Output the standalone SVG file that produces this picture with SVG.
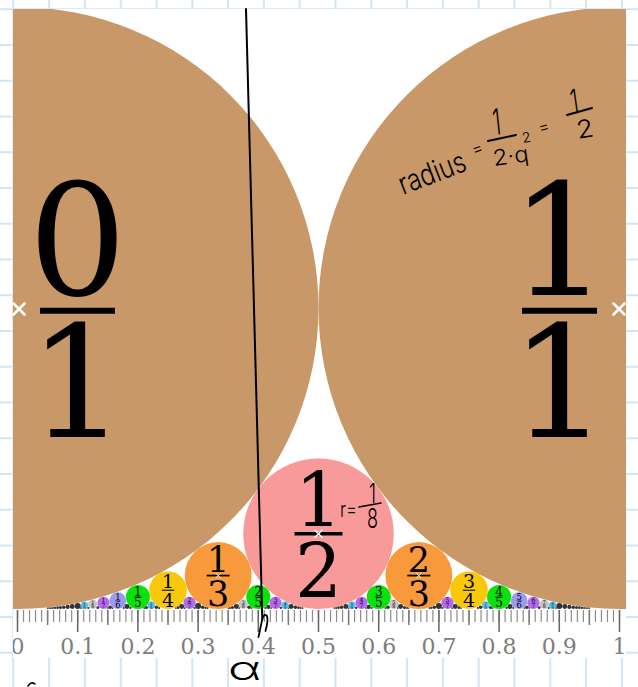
<svg xmlns="http://www.w3.org/2000/svg" width="638" height="687" viewBox="0 0 638 687">
<defs>
<style>
.lab{font-family:"DejaVu Serif","Liberation Serif",serif;text-anchor:middle;fill:#000}
.bar{stroke:#000;fill:none}
.hw{font-family:"Inter","Open Sans","DejaVu Sans",sans-serif;font-weight:300;fill:#000}
.ink{stroke:#000;fill:none;stroke-linecap:round;stroke-linejoin:round}
.ax{font-family:"DejaVu Serif","Liberation Serif",serif;font-size:22px;fill:#7d7d7d;text-anchor:middle}
.pt{stroke:#fff;fill:none;stroke-linecap:round}
.q1{fill:#c99868}.q2{fill:#f99a9a}.q3{fill:#f89a3c}.q4{fill:#f8c80a}.q5{fill:#0be10b}
.q6{fill:#9a9af2}.q7{fill:#b56bee}.q8{fill:#c6c6c6}.q9{fill:#5bbfea}.qn{fill:#333}
</style>
<pattern id="grid" x="12.3" y="8.25" width="35.8" height="35.75" patternUnits="userSpaceOnUse">
<path d="M0 1H35.8M1 0V35.75" stroke="#cfe6f7" stroke-width="2" fill="none"/>
</pattern>
<clipPath id="plot"><rect x="13" y="9" width="613" height="649"/></clipPath>
</defs>
<rect width="638" height="687" fill="#fff"/>
<rect width="638" height="687" fill="url(#grid)"/>
<rect x="13" y="9" width="613" height="649" fill="#fff"/>
<g clip-path="url(#plot)">
<circle cx="628" cy="23" r="11" fill="#a5a5a5"/>
<g id="c0_1"><circle class="q1" cx="17.5" cy="308" r="301"/>
<text class="lab" x="77.5" y="295" font-size="155">0</text><line class="bar" x1="40" y1="310.7" x2="115" y2="310.7" stroke-width="6"/><text class="lab" x="77.5" y="437" font-size="155">1</text>
<path class="pt" d="M13.5 303.5l11 11M24.5 303.5l-11 11" stroke-width="2.5"/></g>
<g id="c1_1"><circle class="q1" cx="619.5" cy="308" r="301"/>
<text class="lab" x="559.5" y="295" font-size="155">1</text><line class="bar" x1="522" y1="310.7" x2="597" y2="310.7" stroke-width="6"/><text class="lab" x="559.5" y="437" font-size="155">1</text>
<path class="pt" d="M613.5 303.5l11 11M624.5 303.5l-11 11" stroke-width="2.5"/></g>
<g id="c1_2"><circle class="q2" cx="318.5" cy="533.75" r="75.25"/>
<text class="lab" x="318.5" y="525.6" font-size="74">1</text><line class="bar" x1="294.5" y1="533.75" x2="342.5" y2="533.75" stroke-width="3.7"/><text class="lab" x="318.5" y="597.4" font-size="74">2</text>
<path class="pt" d="M315 530.25l7 7M322 530.25l-7 7" stroke-width="1.5"/></g>
<g id="c1_3"><circle class="q3" cx="218.17" cy="575.56" r="33.44"/>
<text class="lab" x="218.17" y="571.7" font-size="35">1</text><line class="bar" x1="206.67" y1="575.56" x2="229.67" y2="575.56" stroke-width="1.75"/><text class="lab" x="218.17" y="605.7" font-size="35">3</text>
<path class="pt" d="M216.2 573.6l4 4M220.2 573.6l-4 4" stroke-width="1"/></g>
<g id="c2_3"><circle class="q3" cx="418.83" cy="575.56" r="33.44"/>
<text class="lab" x="418.83" y="571.7" font-size="35">2</text><line class="bar" x1="407.33" y1="575.56" x2="430.33" y2="575.56" stroke-width="1.75"/><text class="lab" x="418.83" y="605.7" font-size="35">3</text>
<path class="pt" d="M416.8 573.6l4 4M420.8 573.6l-4 4" stroke-width="1"/></g>
<g id="c1_4"><circle class="q4" cx="168" cy="590.19" r="18.81"/>
<text class="lab" x="168" y="588.1" font-size="19">1</text><line class="bar" x1="161.8" y1="590.19" x2="174.2" y2="590.19" stroke-width="1"/><text class="lab" x="168" y="606.5" font-size="19">4</text></g>
<g id="c3_4"><circle class="q4" cx="469" cy="590.19" r="18.81"/>
<text class="lab" x="469" y="588.1" font-size="19">3</text><line class="bar" x1="462.8" y1="590.19" x2="475.2" y2="590.19" stroke-width="1"/><text class="lab" x="469" y="606.5" font-size="19">4</text></g>
<g id="c1_5"><circle class="q5" cx="137.9" cy="596.96" r="12.04"/>
<text class="lab" x="137.9" y="595.6" font-size="12">1</text><line class="bar" x1="134" y1="596.96" x2="141.8" y2="596.96" stroke-width="0.6"/><text class="lab" x="137.9" y="607.3" font-size="12">5</text></g>
<g id="c2_5"><circle class="q5" cx="258.3" cy="596.96" r="12.04"/>
<text class="lab" x="258.3" y="595.6" font-size="12">2</text><line class="bar" x1="254.4" y1="596.96" x2="262.2" y2="596.96" stroke-width="0.6"/><text class="lab" x="258.3" y="607.3" font-size="12">5</text></g>
<g id="c3_5"><circle class="q5" cx="378.7" cy="596.96" r="12.04"/>
<text class="lab" x="378.7" y="595.6" font-size="12">3</text><line class="bar" x1="374.8" y1="596.96" x2="382.6" y2="596.96" stroke-width="0.6"/><text class="lab" x="378.7" y="607.3" font-size="12">5</text></g>
<g id="c4_5"><circle class="q5" cx="499.1" cy="596.96" r="12.04"/>
<text class="lab" x="499.1" y="595.6" font-size="12">4</text><line class="bar" x1="495.2" y1="596.96" x2="503" y2="596.96" stroke-width="0.6"/><text class="lab" x="499.1" y="607.3" font-size="12">5</text></g>
<g id="c1_6"><circle class="q6" cx="117.83" cy="600.64" r="8.36"/>
<text class="lab" x="117.83" y="599.7" font-size="8.4">1</text><line class="bar" x1="115.1" y1="600.64" x2="120.5" y2="600.64" stroke-width="0.45"/><text class="lab" x="117.83" y="607.9" font-size="8.4">6</text></g>
<g id="c5_6"><circle class="q6" cx="519.17" cy="600.64" r="8.36"/>
<text class="lab" x="519.17" y="599.7" font-size="8.4">5</text><line class="bar" x1="516.5" y1="600.64" x2="521.9" y2="600.64" stroke-width="0.45"/><text class="lab" x="519.17" y="607.9" font-size="8.4">6</text></g>
<g id="c1_7"><circle class="q7" cx="103.5" cy="602.86" r="6.14"/><text class="lab" x="103.5" y="602.2" font-size="6.1">1</text><line class="bar" x1="101.5" y1="602.86" x2="105.5" y2="602.86" stroke-width="0.35"/><text class="lab" x="103.5" y="608.1" font-size="6.1">7</text></g>
<g id="c2_7"><circle class="q7" cx="189.5" cy="602.86" r="6.14"/><text class="lab" x="189.5" y="602.2" font-size="6.1">2</text><line class="bar" x1="187.5" y1="602.86" x2="191.5" y2="602.86" stroke-width="0.35"/><text class="lab" x="189.5" y="608.1" font-size="6.1">7</text></g>
<g id="c3_7"><circle class="q7" cx="275.5" cy="602.86" r="6.14"/><text class="lab" x="275.5" y="602.2" font-size="6.1">3</text><line class="bar" x1="273.5" y1="602.86" x2="277.5" y2="602.86" stroke-width="0.35"/><text class="lab" x="275.5" y="608.1" font-size="6.1">7</text></g>
<g id="c4_7"><circle class="q7" cx="361.5" cy="602.86" r="6.14"/><text class="lab" x="361.5" y="602.2" font-size="6.1">4</text><line class="bar" x1="359.5" y1="602.86" x2="363.5" y2="602.86" stroke-width="0.35"/><text class="lab" x="361.5" y="608.1" font-size="6.1">7</text></g>
<g id="c5_7"><circle class="q7" cx="447.5" cy="602.86" r="6.14"/><text class="lab" x="447.5" y="602.2" font-size="6.1">5</text><line class="bar" x1="445.5" y1="602.86" x2="449.5" y2="602.86" stroke-width="0.35"/><text class="lab" x="447.5" y="608.1" font-size="6.1">7</text></g>
<g id="c6_7"><circle class="q7" cx="533.5" cy="602.86" r="6.14"/><text class="lab" x="533.5" y="602.2" font-size="6.1">6</text><line class="bar" x1="531.5" y1="602.86" x2="535.5" y2="602.86" stroke-width="0.35"/><text class="lab" x="533.5" y="608.1" font-size="6.1">7</text></g>
<g id="c1_8"><circle class="q8" cx="92.75" cy="604.3" r="4.7"/><text class="lab" x="92.75" y="603.8" font-size="4.7">1</text><line class="bar" x1="91.25" y1="604.3" x2="94.25" y2="604.3" stroke-width="0.3"/><text class="lab" x="92.75" y="608.3" font-size="4.7">8</text></g>
<g id="c3_8"><circle class="q8" cx="243.25" cy="604.3" r="4.7"/><text class="lab" x="243.25" y="603.8" font-size="4.7">3</text><line class="bar" x1="241.75" y1="604.3" x2="244.75" y2="604.3" stroke-width="0.3"/><text class="lab" x="243.25" y="608.3" font-size="4.7">8</text></g>
<g id="c5_8"><circle class="q8" cx="393.75" cy="604.3" r="4.7"/><text class="lab" x="393.75" y="603.8" font-size="4.7">5</text><line class="bar" x1="392.25" y1="604.3" x2="395.25" y2="604.3" stroke-width="0.3"/><text class="lab" x="393.75" y="608.3" font-size="4.7">8</text></g>
<g id="c7_8"><circle class="q8" cx="544.25" cy="604.3" r="4.7"/><text class="lab" x="544.25" y="603.8" font-size="4.7">7</text><line class="bar" x1="542.75" y1="604.3" x2="545.75" y2="604.3" stroke-width="0.3"/><text class="lab" x="544.25" y="608.3" font-size="4.7">8</text></g>
<g id="c1_9"><circle class="q9" cx="84.39" cy="605.28" r="3.72"/><text class="lab" x="84.39" y="604.9" font-size="3.7">1</text><line class="bar" x1="83.2" y1="605.28" x2="85.6" y2="605.28" stroke-width="0.25"/><text class="lab" x="84.39" y="608.5" font-size="3.7">9</text></g>
<g id="c2_9"><circle class="q9" cx="151.28" cy="605.28" r="3.72"/><text class="lab" x="151.28" y="604.9" font-size="3.7">2</text><line class="bar" x1="150.1" y1="605.28" x2="152.5" y2="605.28" stroke-width="0.25"/><text class="lab" x="151.28" y="608.5" font-size="3.7">9</text></g>
<g id="c4_9"><circle class="q9" cx="285.06" cy="605.28" r="3.72"/><text class="lab" x="285.06" y="604.9" font-size="3.7">4</text><line class="bar" x1="283.9" y1="605.28" x2="286.3" y2="605.28" stroke-width="0.25"/><text class="lab" x="285.06" y="608.5" font-size="3.7">9</text></g>
<g id="c5_9"><circle class="q9" cx="351.94" cy="605.28" r="3.72"/><text class="lab" x="351.94" y="604.9" font-size="3.7">5</text><line class="bar" x1="350.7" y1="605.28" x2="353.1" y2="605.28" stroke-width="0.25"/><text class="lab" x="351.94" y="608.5" font-size="3.7">9</text></g>
<g id="c7_9"><circle class="q9" cx="485.72" cy="605.28" r="3.72"/><text class="lab" x="485.72" y="604.9" font-size="3.7">7</text><line class="bar" x1="484.5" y1="605.28" x2="486.9" y2="605.28" stroke-width="0.25"/><text class="lab" x="485.72" y="608.5" font-size="3.7">9</text></g>
<g id="c8_9"><circle class="q9" cx="552.61" cy="605.28" r="3.72"/><text class="lab" x="552.61" y="604.9" font-size="3.7">8</text><line class="bar" x1="551.4" y1="605.28" x2="553.8" y2="605.28" stroke-width="0.25"/><text class="lab" x="552.61" y="608.5" font-size="3.7">9</text></g>
<g id="small-circles" class="qn">
<circle cx="77.7" cy="605.99" r="3.01"/><circle cx="198.1" cy="605.99" r="3.01"/><circle cx="438.9" cy="605.99" r="3.01"/><circle cx="559.3" cy="605.99" r="3.01"/>
<circle cx="72.23" cy="606.51" r="2.49"/><circle cx="126.95" cy="606.51" r="2.49"/><circle cx="181.68" cy="606.51" r="2.49"/><circle cx="236.41" cy="606.51" r="2.49"/><circle cx="291.14" cy="606.51" r="2.49"/><circle cx="345.86" cy="606.51" r="2.49"/><circle cx="400.59" cy="606.51" r="2.49"/><circle cx="455.32" cy="606.51" r="2.49"/><circle cx="510.05" cy="606.51" r="2.49"/><circle cx="564.77" cy="606.51" r="2.49"/>
<circle cx="67.67" cy="606.91" r="2.09"/><circle cx="268.33" cy="606.91" r="2.09"/><circle cx="368.67" cy="606.91" r="2.09"/><circle cx="569.33" cy="606.91" r="2.09"/>
<circle cx="63.81" cy="607.22" r="1.78"/><circle cx="110.12" cy="607.22" r="1.78"/><circle cx="156.42" cy="607.22" r="1.78"/><circle cx="202.73" cy="607.22" r="1.78"/><circle cx="249.04" cy="607.22" r="1.78"/><circle cx="295.35" cy="607.22" r="1.78"/><circle cx="341.65" cy="607.22" r="1.78"/><circle cx="387.96" cy="607.22" r="1.78"/><circle cx="434.27" cy="607.22" r="1.78"/><circle cx="480.58" cy="607.22" r="1.78"/><circle cx="526.88" cy="607.22" r="1.78"/><circle cx="573.19" cy="607.22" r="1.78"/>
<circle cx="60.5" cy="607.46" r="1.54"/><circle cx="146.5" cy="607.46" r="1.54"/><circle cx="232.5" cy="607.46" r="1.54"/><circle cx="404.5" cy="607.46" r="1.54"/><circle cx="490.5" cy="607.46" r="1.54"/><circle cx="576.5" cy="607.46" r="1.54"/>
<circle cx="57.63" cy="607.66" r="1.34"/><circle cx="97.77" cy="607.66" r="1.34"/><circle cx="178.03" cy="607.66" r="1.34"/><circle cx="298.43" cy="607.66" r="1.34"/><circle cx="338.57" cy="607.66" r="1.34"/><circle cx="458.97" cy="607.66" r="1.34"/><circle cx="539.23" cy="607.66" r="1.34"/><circle cx="579.37" cy="607.66" r="1.34"/>
<circle cx="55.13" cy="607.82" r="1.18"/><circle cx="130.38" cy="607.82" r="1.18"/><circle cx="205.63" cy="607.82" r="1.18"/><circle cx="280.88" cy="607.82" r="1.18"/><circle cx="356.13" cy="607.82" r="1.18"/><circle cx="431.38" cy="607.82" r="1.18"/><circle cx="506.63" cy="607.82" r="1.18"/><circle cx="581.88" cy="607.82" r="1.18"/>
<circle cx="52.91" cy="607.96" r="1.04"/><circle cx="88.32" cy="607.96" r="1.04"/><circle cx="123.74" cy="607.96" r="1.04"/><circle cx="159.15" cy="607.96" r="1.04"/><circle cx="194.56" cy="607.96" r="1.04"/><circle cx="229.97" cy="607.96" r="1.04"/><circle cx="265.38" cy="607.96" r="1.04"/><circle cx="300.8" cy="607.96" r="1.04"/><circle cx="336.2" cy="607.96" r="1.04"/><circle cx="371.62" cy="607.96" r="1.04"/><circle cx="407.03" cy="607.96" r="1.04"/><circle cx="442.44" cy="607.96" r="1.04"/><circle cx="477.85" cy="607.96" r="1.04"/><circle cx="513.27" cy="607.96" r="1.04"/><circle cx="548.68" cy="607.96" r="1.04"/><circle cx="584.09" cy="607.96" r="1.04"/>
<circle cx="50.94" cy="608.07" r="0.93"/><circle cx="184.72" cy="608.07" r="0.93"/><circle cx="251.61" cy="608.07" r="0.93"/><circle cx="385.39" cy="608.07" r="0.93"/><circle cx="452.28" cy="608.07" r="0.93"/><circle cx="586.06" cy="608.07" r="0.93"/>
<circle cx="49.18" cy="608.17" r="0.83"/><circle cx="80.87" cy="608.17" r="0.83"/><circle cx="112.55" cy="608.17" r="0.83"/><circle cx="144.24" cy="608.17" r="0.83"/><circle cx="175.92" cy="608.17" r="0.83"/><circle cx="207.6" cy="608.17" r="0.83"/><circle cx="239.29" cy="608.17" r="0.83"/><circle cx="270.97" cy="608.17" r="0.83"/><circle cx="302.66" cy="608.17" r="0.83"/><circle cx="334.34" cy="608.17" r="0.83"/><circle cx="366.02" cy="608.17" r="0.83"/><circle cx="397.71" cy="608.17" r="0.83"/><circle cx="429.39" cy="608.17" r="0.83"/><circle cx="461.08" cy="608.17" r="0.83"/><circle cx="492.76" cy="608.17" r="0.83"/><circle cx="524.44" cy="608.17" r="0.83"/><circle cx="556.13" cy="608.17" r="0.83"/><circle cx="587.81" cy="608.17" r="0.83"/>
<circle cx="47.6" cy="608.25" r="0.75"/><circle cx="107.8" cy="608.25" r="0.75"/><circle cx="228.2" cy="608.25" r="0.75"/><circle cx="288.4" cy="608.25" r="0.75"/><circle cx="348.6" cy="608.25" r="0.75"/><circle cx="408.8" cy="608.25" r="0.75"/><circle cx="529.2" cy="608.25" r="0.75"/><circle cx="589.4" cy="608.25" r="0.75"/>
</g>
<g id="axis">
<line x1="16.9" y1="616" x2="621" y2="616" stroke="#8c8c8c" stroke-width="12" stroke-dasharray="1.2 4.82"/>
<line x1="46.85" y1="617.5" x2="591" y2="617.5" stroke="#7a7a7a" stroke-width="15" stroke-dasharray="1.5 58.7"/>
<line x1="16.75" y1="621" x2="621" y2="621" stroke="#666" stroke-width="22" stroke-dasharray="1.5 58.7"/>
<text class="ax" x="17.5" y="654">0</text><text class="ax" x="77.7" y="654">0.1</text><text class="ax" x="137.9" y="654">0.2</text><text class="ax" x="198.1" y="654">0.3</text><text class="ax" x="258.3" y="654">0.4</text><text class="ax" x="318.5" y="654">0.5</text><text class="ax" x="378.7" y="654">0.6</text><text class="ax" x="438.9" y="654">0.7</text><text class="ax" x="499.1" y="654">0.8</text><text class="ax" x="559.3" y="654">0.9</text><text class="ax" x="619.5" y="654">1</text>
</g>
</g>
<g id="annotations">
<text class="hw" font-size="30" textLength="70" lengthAdjust="spacingAndGlyphs" transform="translate(403,195) rotate(-21)">radius</text>
<text class="hw" font-size="18" textLength="11" lengthAdjust="spacingAndGlyphs" transform="translate(474,156) rotate(-20)">=</text>
<text class="hw" font-size="36" textLength="8" lengthAdjust="spacingAndGlyphs" transform="translate(494,135) rotate(-6)">1</text>
<path class="ink" d="M488 141L516 135" stroke-width="2"/>
<text class="hw" font-size="22" textLength="36" lengthAdjust="spacingAndGlyphs" transform="translate(494,166) rotate(-8)">2·q</text>
<text class="hw" font-size="14" transform="translate(523,143) rotate(-10)">2</text>
<text class="hw" font-size="18" textLength="11" lengthAdjust="spacingAndGlyphs" transform="translate(540,134) rotate(-15)">=</text>
<text class="hw" font-size="34" textLength="8" lengthAdjust="spacingAndGlyphs" transform="translate(572,114) rotate(-8)">1</text>
<path class="ink" d="M567 115L592 108" stroke-width="2"/>
<text class="hw" font-size="25" textLength="17" lengthAdjust="spacingAndGlyphs" transform="translate(578,139) rotate(-10)">2</text>
<text class="hw" font-size="22" textLength="17" lengthAdjust="spacingAndGlyphs" x="340" y="517">r=</text>
<text class="hw" font-size="27" textLength="7" lengthAdjust="spacingAndGlyphs" x="369" y="503">1</text>
<path class="ink" d="M359 507L381 503" stroke-width="1.6"/>
<text class="hw" font-size="27" textLength="11" lengthAdjust="spacingAndGlyphs" x="367" y="528">8</text>
<path class="ink" d="M246 9L262.3 619" stroke-width="2"/>
<path class="ink" d="M262.3 619L258.5 637M262.3 619Q264 613 267 616Q268.5 620 265.5 631" stroke-width="1.8"/>
<text class="hw" font-size="32" textLength="33" lengthAdjust="spacingAndGlyphs" x="228" y="680">α</text>
<path class="ink" d="M28 686Q31 681 35 684" stroke-width="1.5"/>
</g>
</svg>
